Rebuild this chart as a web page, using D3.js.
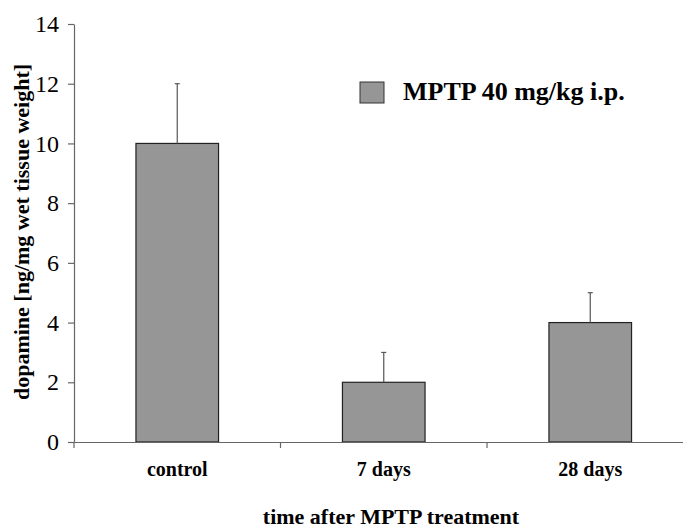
<html>
<head>
<script src="https://d3js.org/d3.v7.min.js"></script>
<style>
  body { margin: 0; background: #fff; }
  svg text { font-family: "Liberation Serif", "Times New Roman", serif !important; fill: #000; }
  .y-axis text { font-size: 24px !important; font-weight: normal; }
</style>
</head>
<body>
<div id="graph"></div>
<script>
categories = ["control", "7 days", "28 days"];
values = [10, 2, 4];
errors = [2, 1, 1];
y_ticks = [0, 2, 4, 6, 8, 10, 12, 14];
series_name = "MPTP 40 mg/kg i.p.";
x_title = "time after MPTP treatment";
y_title = "dopamine [ng/mg wet tissue weight]";

width = 683;
height = 530;
left = 74;
bottom = 442;
top_y = 24;
band = 206.5;

svg = d3.select("#graph").append("svg")
    .attr("width", width)
    .attr("height", height);

x = d3.scaleBand()
    .domain(categories)
    .range([left, left + band * categories.length])
    .paddingInner(0.6)
    .paddingOuter(0.3);

y = d3.scaleLinear()
    .domain([0, 14])
    .range([bottom, top_y]);

// bars
svg.selectAll("rect.bar")
    .data(categories)
    .enter().append("rect")
        .attr("class", "bar")
        .attr("x", function(d) { return x(d); })
        .attr("y", function(d, i) { return y(values[i]); })
        .attr("width", x.bandwidth())
        .attr("height", function(d, i) { return y(0) - y(values[i]); })
        .attr("fill", "#969696")
        .attr("stroke", "#222")
        .attr("stroke-width", 1.2);

// error bars (upper only)
errs = svg.selectAll("g.err")
    .data(categories)
    .enter().append("g")
        .attr("class", "err");
errs.append("line")
    .attr("x1", function(d) { return x(d) + x.bandwidth() / 2; })
    .attr("x2", function(d) { return x(d) + x.bandwidth() / 2; })
    .attr("y1", function(d, i) { return y(values[i]); })
    .attr("y2", function(d, i) { return y(values[i] + errors[i]); })
    .attr("stroke", "#555")
    .attr("stroke-width", 1.2);
errs.append("line")
    .attr("x1", function(d) { return x(d) + x.bandwidth() / 2 - 2.5; })
    .attr("x2", function(d) { return x(d) + x.bandwidth() / 2 + 2.5; })
    .attr("y1", function(d, i) { return y(values[i] + errors[i]); })
    .attr("y2", function(d, i) { return y(values[i] + errors[i]); })
    .attr("stroke", "#555")
    .attr("stroke-width", 1.2);

// y axis
yAxis = svg.append("g")
    .attr("class", "y-axis")
    .attr("transform", `translate(${left},0)`)
    .call(d3.axisLeft(y).tickValues(y_ticks).tickSize(6).tickPadding(9).tickSizeOuter(0))
    .attr("font-size", 24)
    .attr("font-family", "Liberation Serif");
yAxis.select(".domain").attr("stroke", "#666").attr("stroke-width", 1.2);
yAxis.selectAll(".tick line").attr("stroke", "#666").attr("stroke-width", 1.2);
yAxis.selectAll(".tick text").attr("fill", "#000");

// x axis
xAxis = svg.append("g")
    .attr("transform", `translate(0,${bottom})`)
    .call(d3.axisBottom(x).tickSize(0).tickPadding(20).tickSizeOuter(0));
xAxis.select(".domain").attr("stroke", "#666").attr("stroke-width", 1.2);
xAxis.selectAll(".tick text")
    .style("font-size", "20px")
    .style("font-weight", "bold")
    .attr("fill", "#000");

// category separator ticks
svg.selectAll("line.sep")
    .data(d3.range(categories.length + 1))
    .enter().append("line")
        .attr("class", "sep")
        .attr("x1", function(d) { return left + d * band; })
        .attr("x2", function(d) { return left + d * band; })
        .attr("y1", bottom)
        .attr("y2", bottom + 6)
        .attr("stroke", "#666")
        .attr("stroke-width", 1.2);

// axis titles
svg.append("text")
    .attr("x", 391)
    .attr("y", 524)
    .attr("text-anchor", "middle")
    .style("font-size", "22px")
    .style("font-weight", "bold")
    .text(x_title);

svg.append("text")
    .attr("transform", "translate(29,232) rotate(-90)")
    .attr("text-anchor", "middle")
    .style("font-size", "22px")
    .style("font-weight", "bold")
    .text(y_title);

// legend
svg.append("rect")
    .attr("x", 360)
    .attr("y", 82)
    .attr("width", 24)
    .attr("height", 21)
    .attr("fill", "#969696")
    .attr("stroke", "#333")
    .attr("stroke-width", 1);
svg.append("text")
    .attr("x", 403)
    .attr("y", 100)
    .style("font-size", "26px")
    .style("font-weight", "bold")
    .text(series_name);
</script>
</body>
</html>
